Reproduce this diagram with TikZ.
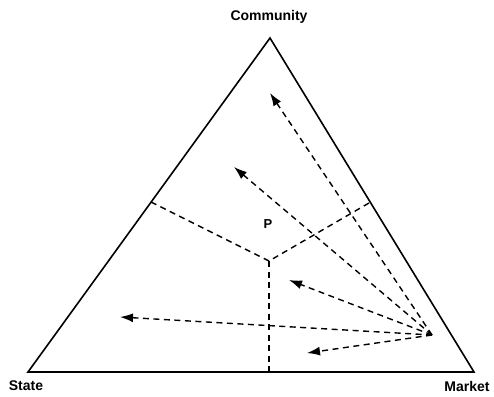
\documentclass[tikz,border=0pt]{standalone}
\usepackage{fontspec}
\setmainfont{Liberation Sans}
\usetikzlibrary{arrows.meta}
\begin{document}
\begin{tikzpicture}[x=1pt,y=-1pt,
  edge/.style={line width=1.6pt,line join=miter},
  part/.style={line width=1.4pt,dash pattern=on 6pt off 4.5pt},
  flow/.style={line width=1.4pt,dash pattern=on 6pt off 4.5pt,-{Latex[length=13pt,width=9pt]}},
  lab/.style={font=\fontsize{14}{16}\selectfont\bfseries,inner sep=0pt}]
\useasboundingbox (0,0) rectangle (494,396);
\coordinate (C) at (270,38);
\coordinate (S) at (28,372);
\coordinate (M) at (474,372);
\draw[edge] (S) -- (C) -- (M) -- cycle;
\node[lab] (lc) at (269,17) {Community};
\node[lab] (ls) at (26,386) {State};
\node[lab] (lm) at (467,386) {Market};
% partition
\coordinate (Pc) at (269,261);
\coordinate (Pl) at (151,202);
\coordinate (Pr) at (369,203);
\coordinate (Pb) at (269,372);
\draw[part] (Pl) -- (Pc) -- (Pr);
\draw[part] (Pc) -- (Pb);
\node[font=\fontsize{13}{15}\selectfont\bfseries,inner sep=0pt] (P) at (268,224) {P};
% arrows
\coordinate (src) at (432,335);
\coordinate (t1) at (270,93);
\coordinate (t2) at (234,167);
\coordinate (t3) at (289,280);
\coordinate (t4) at (120,317);
\coordinate (t5) at (307,353);
\draw[flow] (src) -- (t1);
\draw[flow] (src) -- (t2);
\draw[flow] (src) -- (t3);
\draw[flow] (src) -- (t4);
\draw[flow] (src) -- (t5);
\end{tikzpicture}
\end{document}
